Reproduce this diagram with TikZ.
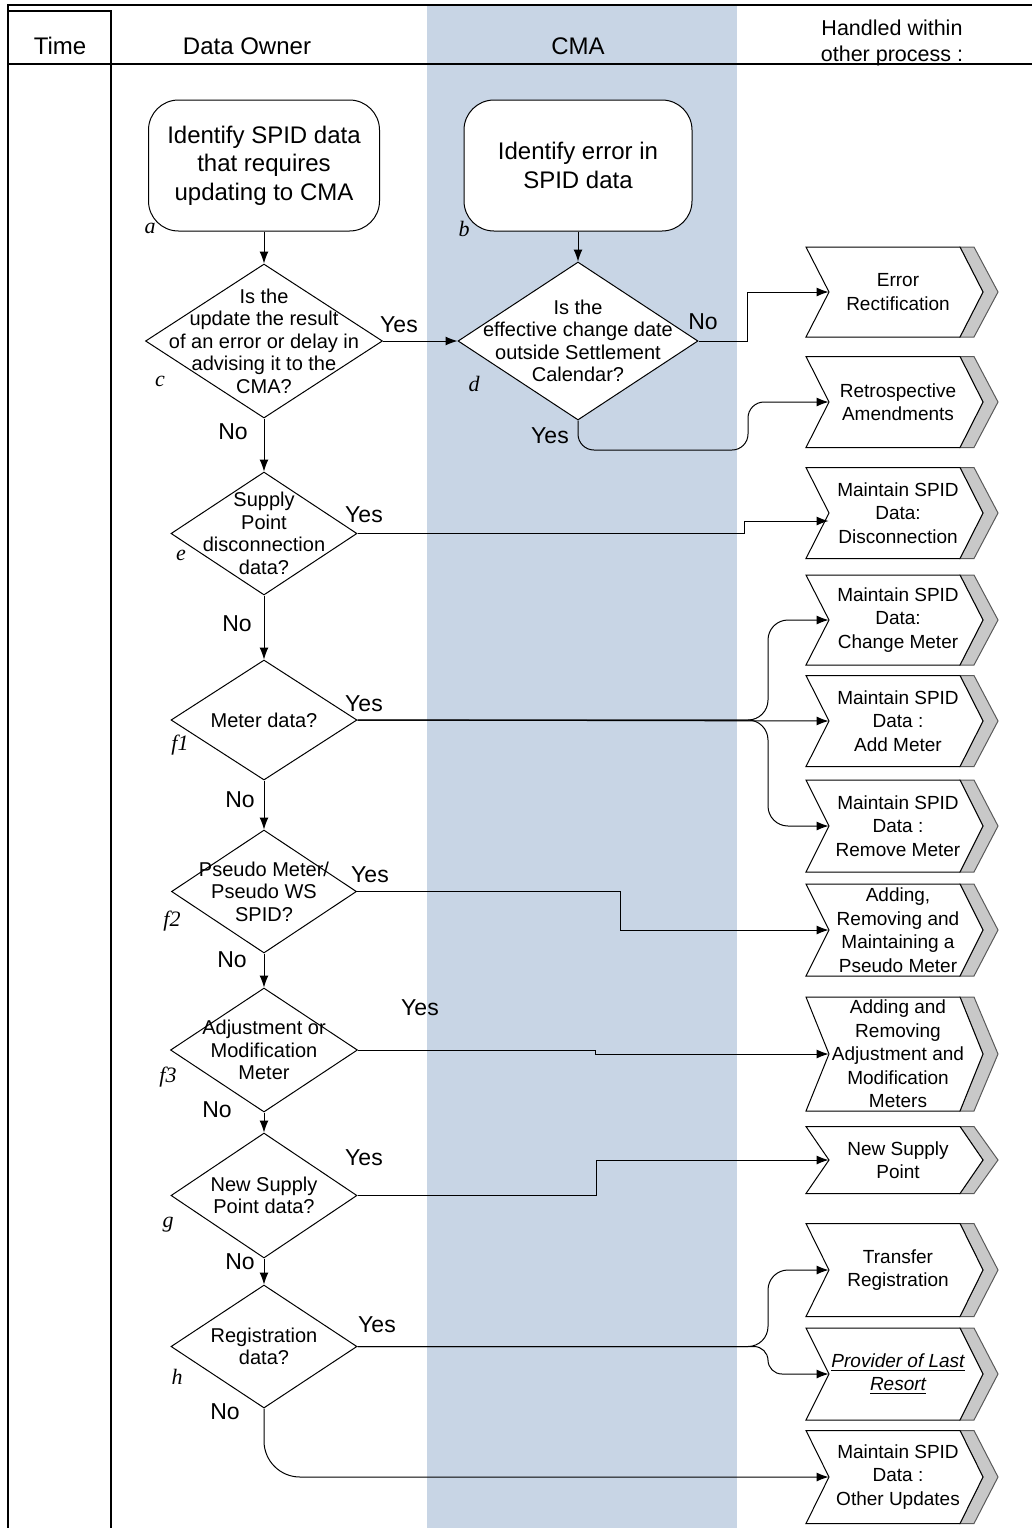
\documentclass[tikz,border=0pt]{standalone}
\usepackage{fontspec}
\setmainfont{Liberation Sans}
\newfontfamily\tagFont{Liberation Serif}
\usepackage{tikz}
\usetikzlibrary{shapes.geometric}
\usetikzlibrary{arrows.meta}
\definecolor{laneColor}{RGB}{200,213,229}
\definecolor{shadeColor}{RGB}{200,200,200}
\definecolor{shadeLine}{RGB}{90,90,90}

% chevron of a process handled elsewhere: name, centre y, height, text
\newcommand{\otherProc}[4]{%
  \filldraw[fill=shadeColor, draw=shadeLine, line width=0.5pt] (960,{#2-#3/2}) -- (974,{#2-#3/2}) -- (998,#2) -- (974,{#2+#3/2}) -- (960,{#2+#3/2}) -- (983,#2) -- cycle;
  \filldraw[fill=white, draw=black, line width=0.5pt] (806,{#2-#3/2}) -- (960,{#2-#3/2}) -- (983,#2) -- (960,{#2+#3/2}) -- (806,{#2+#3/2}) -- (829,#2) -- cycle;
  \node[procText, minimum height={#3*0.5pt}] (#1) at (898,#2) {#4};
}

\begin{document}
\begin{tikzpicture}[x=0.5pt, y=-0.5pt]

          \tikzstyle{frameLine} = [line width=1pt];
          \tikzstyle{headText} = [font=\fontsize{12}{14}\selectfont];
          \tikzstyle{startNode} = [draw, fill=white, line width=0.5pt, rounded corners=15pt, align=center, inner sep=0pt, minimum width=115.5pt, minimum height=65.5pt, font=\fontsize{12}{14.25}\selectfont];
          \tikzstyle{decisionNode} = [draw, fill=white, line width=0.5pt, shape=diamond, inner sep=0pt];
          \tikzstyle{questionText} = [align=center, font=\fontsize{10}{11.25}\selectfont];
          \tikzstyle{procText} = [align=center, inner sep=0pt, minimum width=69pt, font=\fontsize{9.5}{11.75}\selectfont];
          \tikzstyle{answerText} = [font=\fontsize{11.5}{13}\selectfont];
          \tikzstyle{stepTag} = [font=\tagFont\itshape\fontsize{11}{13}\selectfont];
          \tikzstyle{flowEdge} = [line width=0.5pt, -{Latex[length=6pt,width=4.5pt]}];

          \useasboundingbox (0,0) rectangle (1032,1528);

          % swimlanes
          \fill[laneColor] (427,5) rectangle (737,1528);
          \draw[frameLine] (8,1528) -- (8,5) -- (1032,5);
          \draw[frameLine] (8,11) -- (111,11) -- (111,1528);
          \draw[frameLine] (8,64) -- (1032,64);

          \node[headText] (hTime) at (60,46) {Time};
          \node[headText] (hOwner) at (247,46) {Data Owner};
          \node[headText] (hCMA) at (578,46) {CMA};
          \node[align=center, font=\fontsize{10.75}{13.4}\selectfont] (hOther) at (892,43) {Handled within\\other process :};

          % data owner / CMA steps
          \node[startNode] (a) at (264,165.5) {Identify SPID data\\that requires\\updating to CMA};
          \node[startNode, minimum width=114pt] (b) at (578,165.5) {Identify error in\\SPID data};

          \node[decisionNode, minimum width=118.5pt, minimum height=77pt, label={[questionText]center:{Is the\\update the result\\of an error or delay in\\advising it to the\\CMA?}}] (c) at (264,341) {};
          \node[decisionNode, minimum width=120pt, minimum height=79pt, label={[questionText]center:{Is the\\effective change date\\outside Settlement\\Calendar?}}] (d) at (578,341) {};
          \node[decisionNode, minimum width=93pt, minimum height=61.5pt, label={[questionText]center:{Supply\\Point\\disconnection\\data?}}] (e) at (264,533.5) {};
          \node[decisionNode, minimum width=93pt, minimum height=60pt, label={[questionText]center:{Meter data?}}] (f1) at (264,720) {};
          \node[decisionNode, minimum width=92.5pt, minimum height=61.5pt, label={[questionText]center:{Pseudo Meter/\\Pseudo WS\\SPID?}}] (f2) at (264,891.5) {};
          \node[decisionNode, minimum width=93.5pt, minimum height=62pt, label={[questionText]center:{Adjustment or\\Modification\\Meter}}] (f3) at (264,1050) {};
          \node[decisionNode, minimum width=93pt, minimum height=62.5pt, label={[questionText]center:{New Supply\\Point data?}}] (g) at (264,1195.5) {};
          \node[decisionNode, minimum width=93pt, minimum height=61.5pt, label={[questionText]center:{Registration\\data?}}] (h) at (264,1346.5) {};

          \node[stepTag] (tagA) at (150,228) {a};
          \node[stepTag] (tagB) at (464,229) {b};
          \node[stepTag] (tagC) at (160,381) {c};
          \node[stepTag] (tagD) at (474,384) {d};
          \node[stepTag] (tagE) at (181,555) {e};
          \node[stepTag] (tagF1) at (180,745) {f1};
          \node[stepTag] (tagF2) at (172,921) {f2};
          \node[stepTag] (tagF3) at (168,1077) {f3};
          \node[stepTag] (tagG) at (168,1225) {g};
          \node[stepTag] (tagH) at (177,1377) {h};

          % handled within other process
          \otherProc{errRect}{292}{90}{Error\\Rectification}
          \otherProc{retroAm}{402}{91}{Retrospective\\Amendments}
          \otherProc{disc}{513}{91}{Maintain SPID\\Data:\\Disconnection}
          \otherProc{chgMeter}{620}{90}{Maintain SPID\\Data:\\Change Meter}
          \otherProc{addMeter}{721}{91}{Maintain SPID\\Data :\\Add Meter}
          \otherProc{remMeter}{826}{92}{Maintain SPID\\Data :\\Remove Meter}
          \otherProc{pseudoM}{930}{92}{Adding,\\Removing and\\Maintaining a\\Pseudo Meter}
          \otherProc{adjMod}{1054}{114}{Adding and\\Removing\\Adjustment and\\Modification\\Meters}
          \otherProc{newSP}{1160}{67}{New Supply\\Point}
          \otherProc{transReg}{1270}{93}{Transfer\\Registration}
          \otherProc{lastResort}{1374}{92}{\underline{\itshape Provider of Last}\\\underline{\itshape Resort}}
          \otherProc{otherUpd}{1477}{93}{Maintain SPID\\Data :\\Other Updates}

          % flow
          \coordinate (f1Split) at (768,720);
          \coordinate (hSplit) at (768,1346.5);

          \draw[flowEdge] (a) -- (c);
          \draw[flowEdge] (b) -- (d);
          \draw[flowEdge] (c) -- (d);
          \draw[flowEdge] (d.east) -- ++(49,0) |- (errRect.west);
          \draw[flowEdge, rounded corners=8pt] (d.south) |- (748,450) |- (retroAm.west);
          \draw[flowEdge] (c) -- (e);
          \draw[flowEdge] (e.east) -- ++(387,0) |- ([yshift=-4pt]disc.west);
          \draw[flowEdge] (e) -- (f1);
          \draw[flowEdge] (f1.east) -- (addMeter.west);
          \draw[flowEdge, rounded corners=10pt] (f1.east) -- (f1Split) |- (chgMeter.west);
          \draw[flowEdge, rounded corners=10pt] (f1.east) -- (f1Split) |- (remMeter.west);
          \draw[flowEdge] (f1) -- (f2);
          \draw[flowEdge] (f2.east) -- ++(263,0) |- (pseudoM.west);
          \draw[flowEdge] (f2) -- (f3);
          \draw[flowEdge] (f3.east) -- ++(237,0) |- (adjMod.west);
          \draw[flowEdge] (f3) -- (g);
          \draw[flowEdge] (g.east) -- ++(239,0) |- (newSP.west);
          \draw[flowEdge] (g) -- (h);
          \draw[flowEdge, rounded corners=10pt] (h.east) -- (hSplit) |- (transReg.west);
          \draw[flowEdge, rounded corners=7pt] (h.east) -- (hSplit) |- (lastResort.west);
          \draw[flowEdge, rounded corners=18pt] (h.south) |- (otherUpd.west);

          \node[answerText] (yesC) at (399,325) {Yes};
          \node[answerText] (noC) at (233,432) {No};
          \node[answerText] (noD) at (703,322) {No};
          \node[answerText] (yesD) at (550,436) {Yes};
          \node[answerText] (yesE) at (364,515) {Yes};
          \node[answerText] (noE) at (237,624) {No};
          \node[answerText] (yesF1) at (364,704) {Yes};
          \node[answerText] (noF1) at (240,800) {No};
          \node[answerText] (yesF2) at (370,875) {Yes};
          \node[answerText] (noF2) at (232,960) {No};
          \node[answerText] (yesF3) at (420,1008) {Yes};
          \node[answerText] (noF3) at (217,1110) {No};
          \node[answerText] (yesG) at (364,1158) {Yes};
          \node[answerText] (noG) at (240,1262) {No};
          \node[answerText] (yesH) at (377,1325) {Yes};
          \node[answerText] (noH) at (225,1412) {No};
        \end{tikzpicture}
\end{document}
